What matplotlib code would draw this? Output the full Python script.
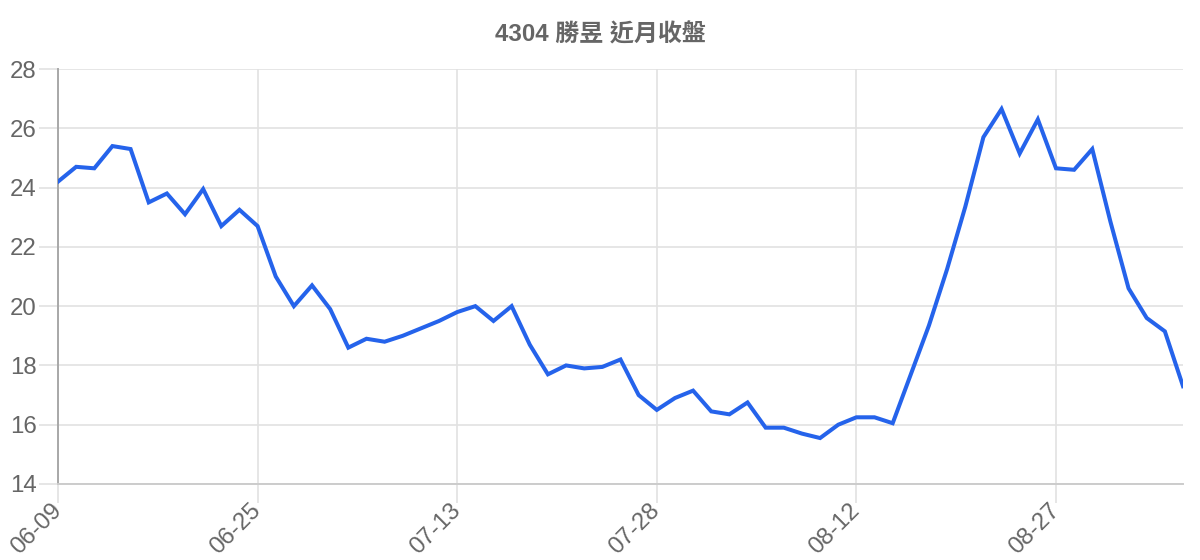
import matplotlib
matplotlib.use('Agg')
import matplotlib.pyplot as plt

# closing prices, one per trading day
closes = [24.2, 24.7, 24.65, 25.4, 25.3, 23.5, 23.8, 23.1, 23.95, 22.7,
          23.25, 22.7, 21.0, 20.0, 20.7, 19.9, 18.6, 18.9, 18.8, 19.0,
          19.25, 19.5, 19.8, 20.0, 19.5, 20.0, 18.7, 17.7, 18.0, 17.9,
          17.95, 18.2, 17.0, 16.5, 16.9, 17.15, 16.45, 16.35, 16.75, 15.9,
          15.9, 15.7, 15.55, 16.0, 16.25, 16.25, 16.05, 17.7, 19.35, 21.25,
          23.35, 25.7, 26.65, 25.15, 26.3, 24.65, 24.6, 25.3, 22.85, 20.6,
          19.6, 19.15, 17.3]
tick_idx = [0, 11, 22, 33, 44, 55]
tick_labels = ['06-09', '06-25', '07-13', '07-28', '08-12', '08-27']
y_ticks = [14, 16, 18, 20, 22, 24, 26, 28]
title = '4304 勝昱 近月收盤'

fonts = ['Liberation Sans', 'Noto Sans CJK TC', 'DejaVu Sans']
plt.rcParams['font.family'] = fonts

fig = plt.figure(figsize=(12, 5.6), dpi=100)
ax = fig.add_axes([58 / 1200, 1 - 484 / 560, 1125 / 1200, 415 / 560])

ax.plot(range(len(closes)), closes, color='#2563eb', lw=2.9,
        solid_joinstyle='miter', zorder=3)

ax.set_xlim(0, len(closes) - 1)
ax.set_ylim(14, 28)
ax.set_yticks(y_ticks)
ax.set_xticks(tick_idx)
ax.set_xticklabels(tick_labels, rotation=45, ha='right', va='center',
                   rotation_mode='anchor')

ax.grid(True, color='#e2e2e2', lw=1.2)
ax.set_axisbelow(True)
ax.tick_params(axis='both', colors='#e2e2e2', width=1.2, length=14,
               labelcolor='#666666', labelsize=17.3, pad=1.5)
ax.tick_params(axis='x', pad=3)

for s in ['top', 'right']:
    ax.spines[s].set_visible(False)
ax.spines['left'].set_color('#a8a8a8')
ax.spines['left'].set_linewidth(1.4)
ax.spines['bottom'].set_color('#cccccc')
ax.spines['bottom'].set_linewidth(1.4)

fig.text(0.5, 1 - 35 / 560, title, ha='center', va='center',
         fontsize=17.3, fontweight='bold', color='#666666')

plt.savefig('out.png', dpi=100)
